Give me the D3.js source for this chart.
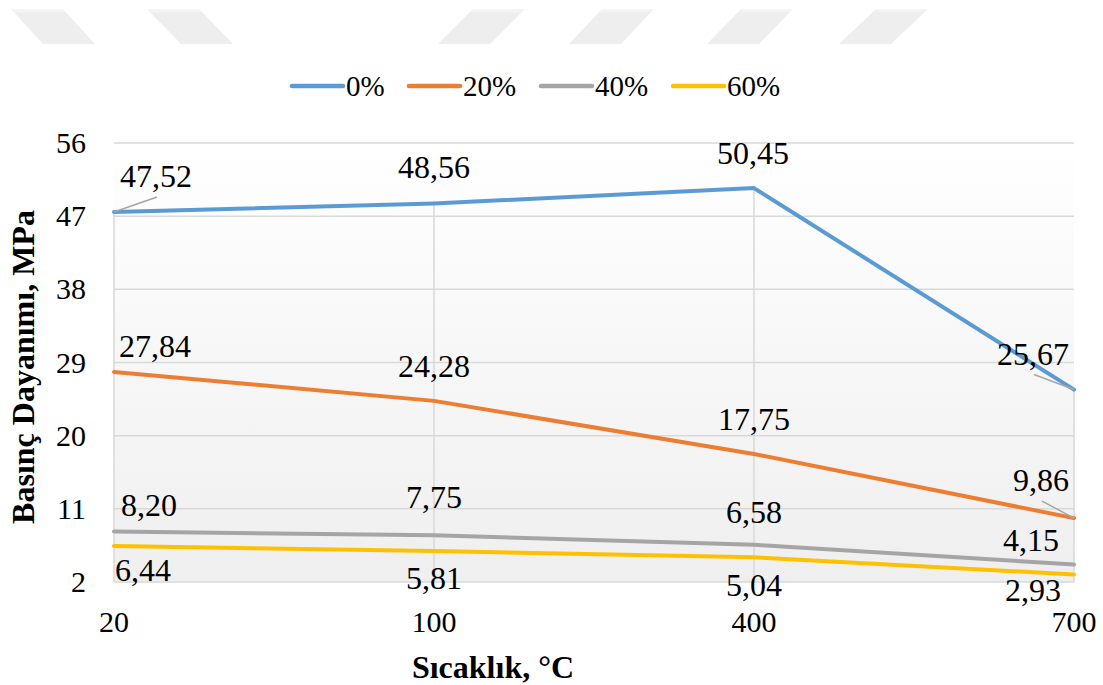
<!DOCTYPE html>
<html>
<head>
<meta charset="utf-8">
<script src="https://cdn.jsdelivr.net/npm/d3@7"></script>
<style>
  html, body { margin: 0; padding: 0; background: #ffffff; }
  svg { display: block; }
</style>
</head>
<body>
<svg id="chart" width="1103" height="685"></svg>
<script>
// ---- data ----
const categories = ["20", "100", "400", "700"];
const seriesNames = ["0%", "20%", "40%", "60%"];
const values0 = [47.52, 48.56, 50.45, 25.67];
const values20 = [27.84, 24.28, 17.75, 9.86];
const values40 = [8.20, 7.75, 6.58, 4.15];
const values60 = [6.44, 5.81, 5.04, 2.93];
const yTicks = [2, 11, 20, 29, 38, 47, 56];
const labelTexts0 = ["47,52", "48,56", "50,45", "25,67"];
const labelTexts20 = ["27,84", "24,28", "17,75", "9,86"];
const labelTexts40 = ["8,20", "7,75", "6,58", "4,15"];
const labelTexts60 = ["6,44", "5,81", "5,04", "2,93"];

// ---- styling / layout ----
const FONT = "Liberation Serif";
const colors = ["#5b9bd5", "#ed7d31", "#a5a5a5", "#ffc000"];
const labelOffsets = [
  [[42, -36], [0, -36], [-1, -35], [-41, -36]],
  [[41, -26], [0, -35], [0, -35], [-33, -38]],
  [[35, -27], [0, -38], [0, -33], [-43, -25]],
  [[29, 24], [0, 27], [0, 28], [-41, 16]]
];
const leaders = [[0, 0], [0, 3], [1, 3]]; // [series, point] with leader lines

const series = [values0, values20, values40, values60].map((v, i) => ({
  name: seriesNames[i], values: v, color: colors[i],
  labels: [labelTexts0, labelTexts20, labelTexts40, labelTexts60][i]
}));

const svg = d3.select("#chart");
const pLeft = 114, pRight = 1074, pTop = 143, pBottom = 582;

const x = d3.scalePoint().domain(categories).range([pLeft, pRight]);
const y = d3.scaleLinear().domain([2, 56]).range([pBottom, pTop]);

const defs = svg.append("defs");

// watermark decoration
const wm = svg.append("g");
const wg = defs.append("linearGradient").attr("id", "wmg").attr("x1", 0).attr("y1", 0).attr("x2", 0).attr("y2", 1);
wg.append("stop").attr("offset", "0").attr("stop-color", "#f7f7f7");
wg.append("stop").attr("offset", "0.12").attr("stop-color", "#eeeeee");
wg.append("stop").attr("offset", "1").attr("stop-color", "#eeeeee");
const wmShapes = [[11, 43], [147, 181], [473, 438], [602, 569], [741, 707], [876, 839]];
wmShapes.forEach(([tx, bx]) => {
  wm.append("polygon")
    .attr("points", `${tx},9 ${tx + 52},9 ${bx + 52},44 ${bx},44`)
    .attr("fill", "url(#wmg)");
});

// plot background gradient
const grad = defs.append("linearGradient").attr("id", "bg").attr("x1", 0).attr("y1", 0).attr("x2", 0).attr("y2", 1);
grad.append("stop").attr("offset", "0").attr("stop-color", "#ffffff");
grad.append("stop").attr("offset", "1").attr("stop-color", "#efefef");
svg.append("rect").attr("x", pLeft).attr("y", pTop).attr("width", pRight - pLeft).attr("height", pBottom - pTop)
  .attr("fill", "url(#bg)");

// horizontal gridlines
svg.append("g").selectAll("line").data(yTicks).join("line")
  .attr("x1", pLeft).attr("x2", pRight)
  .attr("y1", d => y(d)).attr("y2", d => y(d))
  .attr("stroke", "#d9d9d9").attr("stroke-width", 1.5);

// vertical gridlines (visible below the top series)
svg.append("g").selectAll("line").data(categories).join("line")
  .attr("x1", d => x(d)).attr("x2", d => x(d))
  .attr("y1", (d, i) => y(values0[i])).attr("y2", pBottom)
  .attr("stroke", "#d9d9d9").attr("stroke-width", 1.5);

// y tick labels
svg.append("g").selectAll("text").data(yTicks).join("text")
  .attr("x", 86).attr("y", d => y(d) + 10)
  .attr("text-anchor", "end").attr("font-size", 30).style("font-family", FONT).attr("fill", "#000")
  .text(d => d);

// x tick labels
svg.append("g").selectAll("text").data(categories).join("text")
  .attr("x", d => x(d)).attr("y", 632)
  .attr("text-anchor", "middle").attr("font-size", 30).style("font-family", FONT).attr("fill", "#000")
  .text(d => d);

// lines
const line = d3.line().x((d, i) => x(categories[i])).y(d => y(d));
svg.append("g").selectAll("path").data(series).join("path")
  .attr("d", d => line(d.values))
  .attr("fill", "none").attr("stroke", d => d.color)
  .attr("stroke-width", 4).attr("stroke-linejoin", "round").attr("stroke-linecap", "round");

// leader lines
leaders.forEach(([s, p]) => {
  const px = x(categories[p]), py = y(series[s].values[p]);
  const [dx, dy] = labelOffsets[s][p];
  const lx = px + dx + 1;
  const ly = py + dy + 21;
  svg.append("line").attr("x1", px).attr("y1", py).attr("x2", lx).attr("y2", ly)
    .attr("stroke", "#a6a6a6").attr("stroke-width", 1.5);
});

// data labels
series.forEach((s, si) => {
  svg.append("g").selectAll("text").data(s.values).join("text")
    .attr("x", (d, i) => x(categories[i]) + labelOffsets[si][i][0])
    .attr("y", (d, i) => y(d) + labelOffsets[si][i][1] + 11)
    .attr("text-anchor", "middle").attr("font-size", 32).style("font-family", FONT).attr("fill", "#000")
    .text((d, i) => s.labels[i]);
});

// legend
const legendX = [292, 409, 541, 673];
const lg = svg.append("g").selectAll("g").data(series).join("g")
  .attr("transform", (d, i) => `translate(${legendX[i]},86)`);
lg.append("line").attr("x1", 0).attr("x2", 51).attr("y1", 0).attr("y2", 0)
  .attr("stroke", d => d.color).attr("stroke-width", 4.5).attr("stroke-linecap", "round");
lg.append("text").attr("x", 54).attr("y", 10).attr("font-size", 29).style("font-family", FONT).attr("fill", "#000")
  .text(d => d.name);

// axis titles
svg.append("text").attr("x", 493).attr("y", 678).attr("text-anchor", "middle")
  .attr("font-size", 32).attr("font-weight", "bold").style("font-family", FONT).attr("fill", "#000")
  .text("Sıcaklık, °C");
svg.append("text").attr("transform", "translate(34,367) rotate(-90)").attr("text-anchor", "middle")
  .attr("font-size", 32).attr("font-weight", "bold").style("font-family", FONT).attr("fill", "#000")
  .text("Basınç Dayanımı, MPa");
</script>
</body>
</html>
